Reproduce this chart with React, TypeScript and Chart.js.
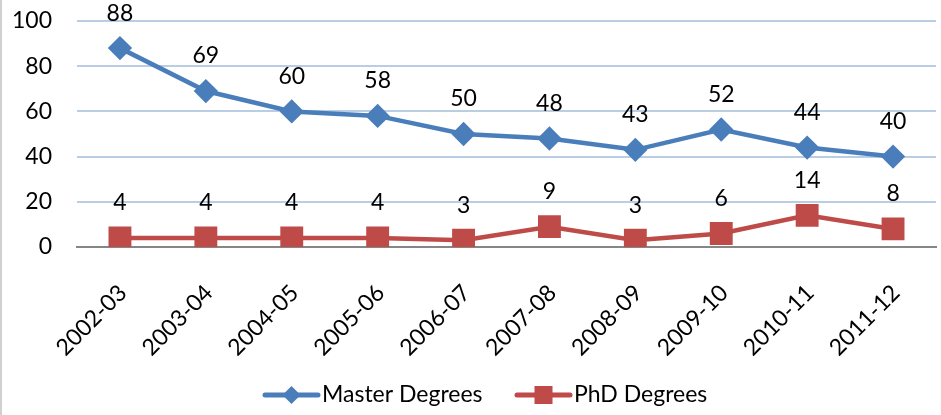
import React, { useEffect, useRef } from "react";
import { Chart, registerables } from "chart.js";

Chart.register(...registerables);

const categories = ["2002-03", "2003-04", "2004-05", "2005-06", "2006-07", "2007-08", "2008-09", "2009-10", "2010-11", "2011-12"];
const masterValues = [88, 69, 60, 58, 50, 48, 43, 52, 44, 40];
const phdValues = [4, 4, 4, 4, 3, 9, 3, 6, 14, 8];
const seriesNames = ["Master Degrees", "PhD Degrees"];

const BLUE = "#4A7EBB";
const RED = "#BE4B48";
const FONT = "Lato, 'Open Sans', sans-serif";
const FS = 23;

const dataLabels = {
  id: "dataLabels",
  afterDatasetsDraw(chart: any) {
    const ctx = chart.ctx;
    ctx.save();
    ctx.fillStyle = "#000";
    ctx.font = `${FS}px ${FONT}`;
    ctx.textAlign = "center";
    ctx.textBaseline = "middle";
    chart.data.datasets.forEach((ds: any, i: number) => {
      const meta = chart.getDatasetMeta(i);
      meta.data.forEach((pt: any, j: number) => {
        ctx.fillText(String(ds.data[j]), pt.x, pt.y - 35);
      });
    });
    ctx.restore();
  },
};

const xLabels = {
  id: "xLabels",
  afterDraw(chart: any) {
    const ctx = chart.ctx;
    const xs = chart.scales.x;
    const bottom = chart.chartArea.bottom;
    ctx.save();
    ctx.fillStyle = "#000";
    ctx.font = `${FS}px ${FONT}`;
    ctx.textAlign = "right";
    ctx.textBaseline = "middle";
    chart.data.labels.forEach((lab: string, i: number) => {
      const x = xs.getPixelForValue(i);
      ctx.save();
      ctx.translate(x + 3, bottom + 42);
      ctx.rotate(-Math.PI / 4);
      ctx.fillText(lab, 0, 0);
      ctx.restore();
    });
    ctx.restore();
  },
};

const customLegend = {
  id: "customLegend",
  afterDraw(chart: any) {
    const ctx = chart.ctx;
    ctx.save();
    ctx.strokeStyle = "#D0D0D0";
    ctx.lineWidth = 2;
    ctx.beginPath();
    ctx.moveTo(1, 0);
    ctx.lineTo(1, chart.height);
    ctx.stroke();

    const y = 395;
    const items = [
      { x: 265, color: BLUE, style: "rectRot" },
      { x: 517, color: RED, style: "rect" },
    ];
    ctx.font = `${FS}px ${FONT}`;
    ctx.textBaseline = "middle";
    ctx.textAlign = "left";
    items.forEach((it, i) => {
      ctx.strokeStyle = it.color;
      ctx.lineWidth = 5;
      ctx.lineCap = "round";
      ctx.beginPath();
      ctx.moveTo(it.x, y);
      ctx.lineTo(it.x + 53, y);
      ctx.stroke();
      ctx.fillStyle = it.color;
      const cx = it.x + 26.5;
      if (it.style === "rect") {
        ctx.fillRect(cx - 9, y - 9, 18, 18);
      } else {
        ctx.beginPath();
        ctx.moveTo(cx, y - 9);
        ctx.lineTo(cx + 9, y);
        ctx.lineTo(cx, y + 9);
        ctx.lineTo(cx - 9, y);
        ctx.closePath();
        ctx.fill();
      }
      ctx.fillStyle = "#000";
      ctx.fillText(seriesNames[i], it.x + 57, y);
    });
    ctx.restore();
  },
};

export default function App() {
  const ref = useRef<HTMLCanvasElement>(null);
  useEffect(() => {
    if (!ref.current) return;
    const chart = new Chart(ref.current, {
      type: "line",
      data: {
        labels: categories,
        datasets: [
          {
            label: seriesNames[0],
            data: masterValues,
            borderColor: BLUE,
            backgroundColor: BLUE,
            borderWidth: 4.5,
            pointStyle: "rectRot",
            pointRadius: 9,
            pointHoverRadius: 9,
            tension: 0,
          },
          {
            label: seriesNames[1],
            data: phdValues,
            borderColor: RED,
            backgroundColor: RED,
            borderWidth: 4.5,
            pointStyle: "rect",
            pointRadius: 13,
            pointHoverRadius: 13,
            tension: 0,
          },
        ],
      },
      options: {
        animation: false,
        responsive: false,
        layout: { autoPadding: false, padding: { top: 21, right: 5, bottom: 168, left: 0 } },
        plugins: { legend: { display: false }, tooltip: { enabled: false } },
        scales: {
          x: {
            offset: true,
            grid: { display: false, drawTicks: false },
            border: { display: true, color: "#868686", width: 2 },
            ticks: { display: false },
            afterFit: (axis: any) => {
              axis.height = 0;
              axis.paddingLeft = 0;
              axis.paddingRight = 0;
            },
          },
          y: {
            min: 0,
            max: 100,
            ticks: {
              stepSize: 20,
              color: "#000",
              padding: 25,
              font: { family: FONT, size: FS },
            },
            grid: {
              color: (c: any) => (c.tick && c.tick.value === 0 ? "rgba(0,0,0,0)" : "#B9CDE5"),
              lineWidth: 2,
              drawTicks: false,
            },
            border: { display: false },
            afterFit: (axis: any) => {
              axis.width = 77;
              axis.paddingTop = 0;
              axis.paddingBottom = 0;
            },
          },
        },
      },
      plugins: [dataLabels, xLabels, customLegend],
    });
    return () => chart.destroy();
  }, []);
  return (
    <div style={{ position: "fixed", left: 0, top: 0, width: 941, height: 415, background: "#fff" }}>
      <canvas ref={ref} width={941} height={415} style={{ width: 941, height: 415 }} />
    </div>
  );
}
